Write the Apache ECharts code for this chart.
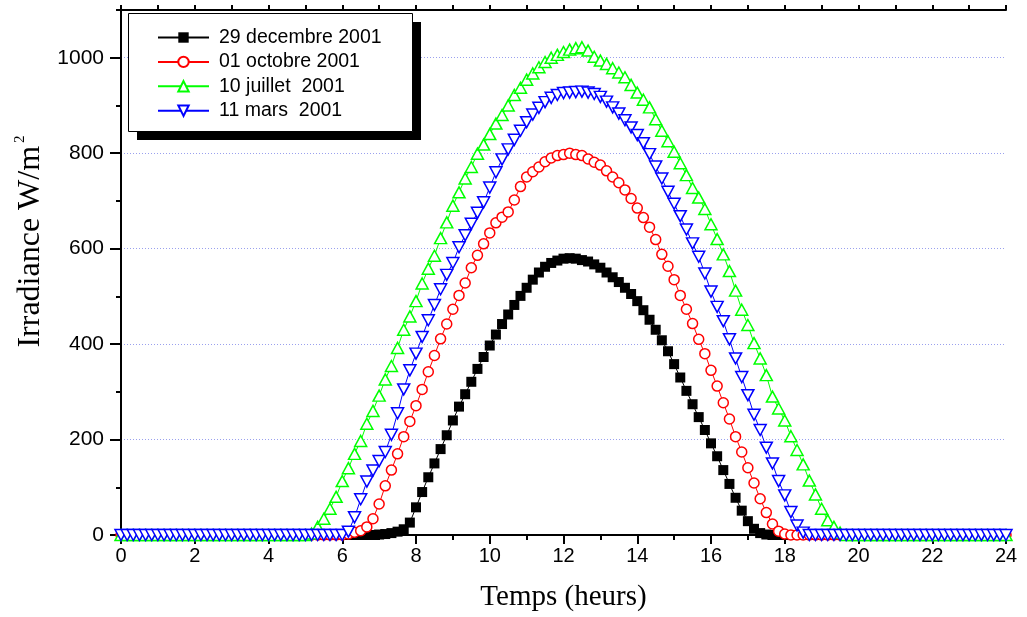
<!DOCTYPE html>
<html>
<head>
<meta charset="utf-8">
<script src="https://cdn.jsdelivr.net/npm/echarts@6/dist/echarts.min.js"></script>
<style>
html,body{margin:0;padding:0;background:#fff;}
#c{width:1027px;height:617px;}
</style>
</head>
<body>
<div id="c"></div>
<script>
// Sample times: every 10 minutes from 0 h to 24 h (145 samples)
const hours = [];
for (let i = 0; i <= 144; i++) hours.push(i / 6);

const seriesNames = ['29 decembre 2001', '01 octobre 2001', '10 juillet  2001', '11 mars  2001'];

// 29 decembre 2001 (W/m2)
const decembre = [
  0,0,0,0,0,0,0,0,0,0,0,0,0,0,0,0,0,0,0,0,0,0,0,0,0,0,0,0,0,0,0,0,0,0,0,0,0,0,0,0,0,0,
  1,2,4,7,12,26,58,90,121,150,180,209,240,269,295,321,348,373,397,420,442,462,482,501,
  518,535,550,562,570,575,579,580,579,576,573,567,560,550,540,530,518,505,490,471,451,430,
  408,385,358,330,302,274,247,220,192,165,136,107,78,51,29,13,4,1,
  0,0,0,0,0,0,0,0,0,0,0,0,0,0,0,0,0,0,0,0,0,0,0,0,0,0,0,0,0,0,0,0,0,0,0,0,0,0,0
];

// 01 octobre 2001 (W/m2)
const octobre = [
  0,0,0,0,0,0,0,0,0,0,0,0,0,0,0,0,0,0,0,0,0,0,0,0,0,0,0,0,0,0,0,0,0,0,0,0,0,
  2,6,9,17,34,65,103,136,170,206,238,271,305,342,376,411,442,473,502,528,560,586,610,
  633,654,666,677,702,730,750,761,771,782,790,795,797,800,797,795,788,781,775,763,750,
  738,723,705,685,665,645,619,588,563,535,502,473,443,410,380,345,312,277,243,206,174,
  141,109,76,47,23,8,2,
  0,0,0,0,0,0,0,0,0,0,0,0,0,0,0,0,0,0,0,0,0,0,0,0,0,0,0,0,0,0,0,0,0,0,0,0
];

// 10 juillet 2001 (W/m2)
const juillet = [
  0,0,0,0,0,0,0,0,0,0,0,0,0,0,0,0,0,0,0,0,0,0,0,0,0,0,0,0,0,0,0,
  3,17,34,55,80,113,140,170,197,233,260,292,326,354,392,430,458,490,527,558,585,622,655,
  690,718,747,771,799,818,840,862,880,900,922,937,954,967,980,991,1000,1006,1012,1017,
  1020,1022,1015,1002,994,987,978,969,959,943,927,912,896,871,847,825,803,779,754,727,
  707,683,651,620,588,553,512,472,440,402,370,335,290,265,240,207,178,148,114,85,55,31,17,5,
  0,0,0,0,0,0,0,0,0,0,0,0,0,0,0,0,0,0,0,0,0,0,0,0,0,0,0
];

// 11 mars 2001 (W/m2)
const mars = [
  0,0,0,0,0,0,0,0,0,0,0,0,0,0,0,0,0,0,0,0,0,0,0,0,0,0,0,0,0,0,0,0,0,0,0,0,0,
  7,37,75,112,135,155,174,210,255,305,345,380,415,450,482,515,545,570,603,628,652,675,697,
  728,760,787,808,828,847,865,881,895,907,916,922,926,927,928,929,927,924,918,908,896,
  883,869,854,838,821,798,772,747,719,694,668,640,611,583,548,510,478,448,410,370,331,
  293,252,220,183,150,113,83,48,20,5,
  0,0,0,0,0,0,0,0,0,0,0,0,0,0,0,0,0,0,0,0,0,0,0,0,0,0,0,0,0,0,0,0,0
];

const xTicks = [0, 2, 4, 6, 8, 10, 12, 14, 16, 18, 20, 22, 24];
const yTicks = [0, 200, 400, 600, 800, 1000];

function pairs(vals) { return vals.map((v, i) => [hours[i], v]); }

const sansFont = '"Liberation Sans", Arial, sans-serif';
const serifFont = '"Liberation Serif", "Times New Roman", serif';

const chart = echarts.init(document.getElementById('c'), null, {renderer: 'canvas'});

const option = {
  animation: false,
  backgroundColor: '#fff',
  grid: {left: 121, right: 21, top: 10, bottom: 81, containLabel: false},
  xAxis: [
    {
      type: 'value', position: 'bottom', min: 0, max: 24, interval: 2,
      axisLine: {show: true, onZero: false, lineStyle: {color: '#000', width: 2}},
      axisTick: {show: true, length: 9, lineStyle: {color: '#000', width: 2}},
      minorTick: {show: true, splitNumber: 2, length: 5, lineStyle: {color: '#000', width: 2}},
      axisLabel: {color: '#000', fontSize: 20, fontFamily: sansFont, margin: 11,
        formatter: v => (xTicks.indexOf(v) >= 0 ? String(v) : '')},
      splitLine: {show: false},
      name: 'Temps (heurs)', nameLocation: 'middle', nameGap: 48,
      nameTextStyle: {color: '#000', fontSize: 29, fontFamily: serifFont}
    },
    {
      type: 'value', position: 'top', min: 0, max: 24, interval: 1,
      axisLine: {show: true, onZero: false, lineStyle: {color: '#000', width: 2}},
      axisTick: {show: true, length: 5, lineStyle: {color: '#000', width: 2}},
      axisLabel: {show: false},
      splitLine: {show: false}
    }
  ],
  yAxis: [
    {
      type: 'value', position: 'left', min: 0, max: 1100, interval: 100,
      axisLine: {show: true, onZero: false, lineStyle: {color: '#000', width: 2}},
      axisTick: {show: true, length: 5, lineStyle: {color: '#000', width: 2}},
      axisLabel: {color: '#000', fontSize: 21, fontFamily: sansFont, margin: 17,
        formatter: v => (yTicks.indexOf(v) >= 0 ? String(v) : '')},
      splitLine: {show: false},
      name: '{t|Irradiance W/m}{s|2}', nameLocation: 'middle', nameRotate: 90, nameGap: 70,
      nameTextStyle: {
        color: '#000', fontFamily: serifFont, fontSize: 32,
        padding: [0, 0, 0, 62],
        rich: {
          t: {fontSize: 32, fontFamily: serifFont, color: '#000', lineHeight: 36},
          s: {fontSize: 15, fontFamily: serifFont, color: '#000', verticalAlign: 'top', lineHeight: 36, padding: [0, 0, 12, 3]}
        }
      }
    },
    {
      type: 'value', position: 'left', min: 0, max: 1100, interval: 200,
      axisLine: {show: false},
      axisTick: {show: true, length: 11, customValues: yTicks, lineStyle: {color: '#000', width: 2}},
      axisLabel: {show: false},
      splitLine: {show: true, lineStyle: {color: '#9aa0ee', width: 1, type: [1, 2]}}
    }
  ],
  legend: {
    orient: 'vertical', left: 152, top: 22.5,
    itemWidth: 51, itemHeight: 13, itemGap: 4.4,
    data: seriesNames,
    textStyle: {color: '#000', fontSize: 19.5, fontFamily: sansFont, padding: [0, 0, 0, 5]},
    z: 10
  },
  graphic: [
    {type: 'rect', z: 8, shape: {x: 137, y: 22, width: 284, height: 118}, style: {fill: '#000'}},
    {type: 'rect', z: 9, shape: {x: 128.5, y: 13.5, width: 284, height: 118}, style: {fill: '#fff', stroke: '#000', lineWidth: 1}}
  ],
  series: [
    {
      name: seriesNames[0], type: 'line', data: pairs(decembre),
      xAxisIndex: 0, yAxisIndex: 0,
      symbol: 'rect', symbolSize: 10, showAllSymbol: true,
      lineStyle: {color: '#000', width: 1},
      itemStyle: {color: '#000'}
    },
    {
      name: seriesNames[1], type: 'line', data: pairs(octobre),
      xAxisIndex: 0, yAxisIndex: 0,
      symbol: 'circle', symbolSize: 10, showAllSymbol: true,
      lineStyle: {color: '#ff0000', width: 1},
      itemStyle: {color: '#fff', borderColor: '#ff0000', borderWidth: 1.5}
    },
    {
      name: seriesNames[2], type: 'line', data: pairs(juillet),
      xAxisIndex: 0, yAxisIndex: 0,
      symbol: 'triangle', symbolSize: [12, 11], showAllSymbol: true,
      lineStyle: {color: '#00ff00', width: 1},
      itemStyle: {color: '#fff', borderColor: '#00ff00', borderWidth: 1.5}
    },
    {
      name: seriesNames[3], type: 'line', data: pairs(mars),
      xAxisIndex: 0, yAxisIndex: 0,
      symbol: 'triangle', symbolRotate: 180, symbolSize: [12, 11], showAllSymbol: true,
      lineStyle: {color: '#0000ff', width: 1},
      itemStyle: {color: '#fff', borderColor: '#0000ff', borderWidth: 1.5}
    }
  ]
};

chart.setOption(option);
</script>
</body>
</html>
